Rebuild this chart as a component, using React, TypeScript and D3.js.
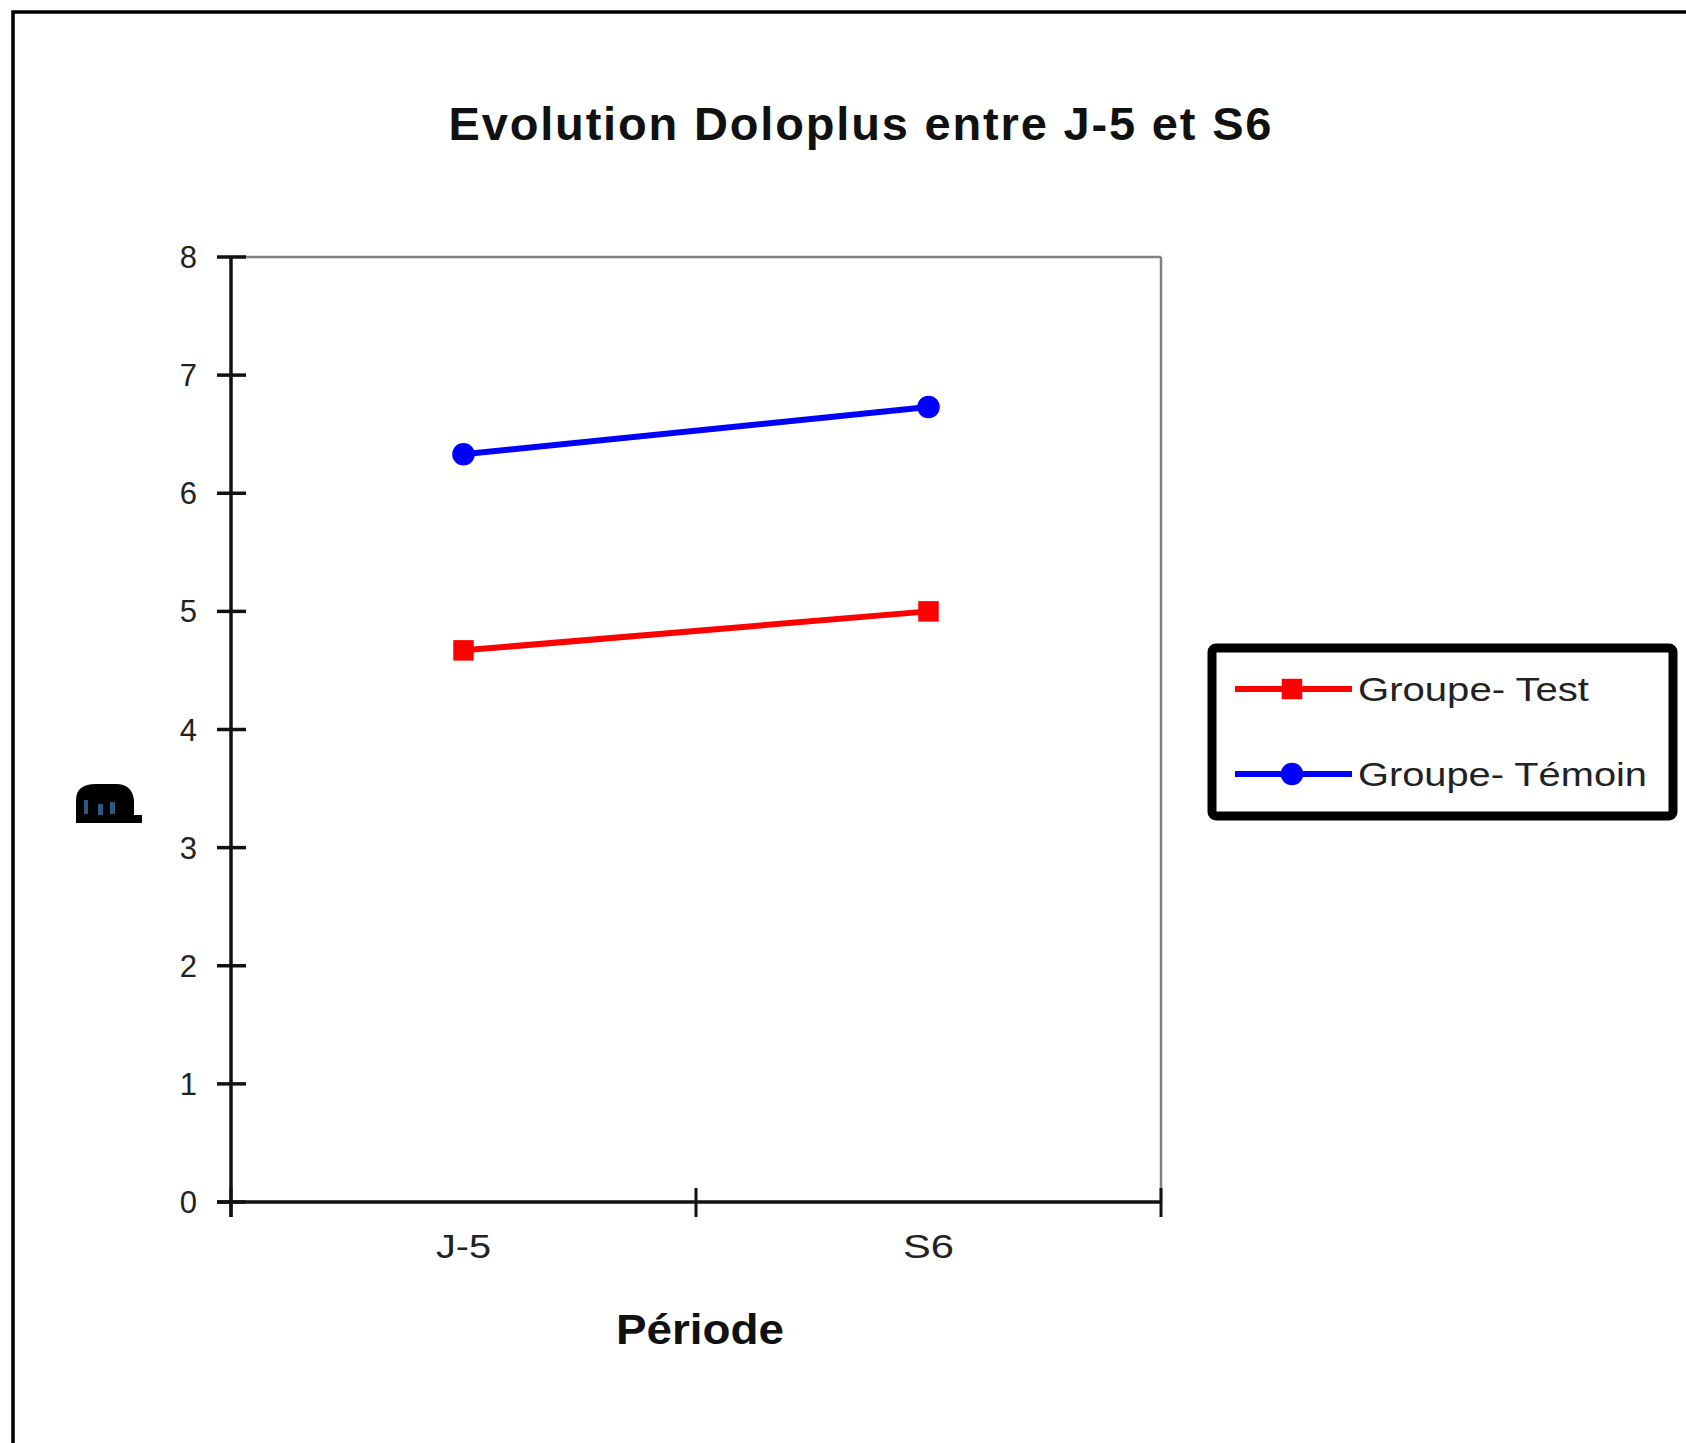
import React from "react";
import * as d3 from "d3";

const categories = ["J-5", "S6"];
const groupeTest = [4.67, 5.0];
const groupeTemoin = [6.33, 6.73];
const yTicks = [0, 1, 2, 3, 4, 5, 6, 7, 8];
const seriesNames = ["Groupe- Test", "Groupe- Témoin"];
const seriesColors = ["#FF0000", "#0000FF"];
const titleText = "Evolution Doloplus entre J-5 et S6";
const xTitle = "Période";

const FONT = "'Liberation Sans', Arial, sans-serif";

export default function App() {
  const W = 1686;
  const H = 1443;
  const left = 231;
  const right = 1161;
  const top = 257;
  const bottom = 1202;

  const x = d3.scaleBand<string>().domain(categories).range([left, right]).padding(0);
  const y = d3.scaleLinear().domain([0, 8]).range([bottom, top]);
  const cx = (c: string) => (x(c) as number) + x.bandwidth() / 2;

  const series = [groupeTest, groupeTemoin];
  const line = d3
    .line<number>()
    .x((_, i) => cx(categories[i]))
    .y((d) => y(d));

  const squareSym = d3.symbol().type(d3.symbolSquare).size(420)();
  const circleSym = d3.symbol().type(d3.symbolCircle).size(400)();
  const syms = [squareSym, circleSym];

  const xBoundaries = [left, ...categories.slice(1).map((c) => x(c) as number), right];
  const xLabelWidths = [55, 51];

  const legendY = [689, 774];

  return (
    <svg
      width={W}
      height={H}
      style={{ position: "absolute", left: 0, top: 0, background: "#fff" }}
      fontFamily={FONT}
    >
      <rect x={0} y={0} width={W} height={H} fill="#fff" />
      {/* outer chart frame */}
      <rect x={13} y={12} width={W + 20} height={H + 20} fill="none" stroke="#000" strokeWidth={3.5} />

      {/* title */}
      <text
        x={860}
        y={140}
        textAnchor="middle"
        fontSize={47}
        fontWeight="bold"
        fill="#111"
        textLength={823}
        lengthAdjust="spacing"
      >
        {titleText}
      </text>

      {/* plot frame top / right */}
      <line x1={left} x2={right} y1={top} y2={top} stroke="#808080" strokeWidth={2.5} />
      <line x1={right} x2={right} y1={top} y2={bottom} stroke="#808080" strokeWidth={2.5} />

      {/* y axis */}
      <line x1={left} x2={left} y1={top} y2={bottom + 15} stroke="#111" strokeWidth={3.5} />
      {yTicks.map((t) => (
        <g key={t}>
          <line x1={left - 14} x2={left + 15} y1={y(t)} y2={y(t)} stroke="#111" strokeWidth={3.5} />
          <text x={197} y={y(t) + 11} textAnchor="end" fontSize={31} fill="#222">
            {t}
          </text>
        </g>
      ))}

      {/* x axis */}
      <line x1={left - 14} x2={right} y1={bottom} y2={bottom} stroke="#111" strokeWidth={3.5} />
      {xBoundaries.map((b, i) => (
        <line key={i} x1={b} x2={b} y1={bottom - 14} y2={bottom + 15} stroke="#111" strokeWidth={3} />
      ))}
      {categories.map((c, i) => (
        <text
          key={c}
          x={cx(c)}
          y={1258}
          textAnchor="middle"
          fontSize={33}
          fill="#222"
          textLength={xLabelWidths[i]}
          lengthAdjust="spacingAndGlyphs"
        >
          {c}
        </text>
      ))}

      {/* x title */}
      <text
        x={700}
        y={1344}
        textAnchor="middle"
        fontSize={43}
        fontWeight="bold"
        fill="#111"
        textLength={168}
        lengthAdjust="spacingAndGlyphs"
      >
        {xTitle}
      </text>

      {/* garbled y-axis title glyph */}
      <g>
        <path d="M76,822 L76,800 Q76,784 96,784 L116,784 Q132,784 134,800 L134,815 L142,815 L142,823 L76,823 Z" fill="#000" />
        <rect x={84} y={800} width={4} height={14} fill="#3a6ea5" opacity={0.8} />
        <rect x={98} y={804} width={5} height={11} fill="#3a6ea5" opacity={0.8} />
        <rect x={110} y={802} width={5} height={12} fill="#3a6ea5" opacity={0.8} />
      </g>

      {/* series */}
      {series.map((s, si) => (
        <g key={si}>
          <path d={line(s) || ""} fill="none" stroke={seriesColors[si]} strokeWidth={6} />
          {s.map((v, i) => (
            <path
              key={i}
              d={syms[si] || ""}
              transform={`translate(${cx(categories[i])},${y(v)})`}
              fill={seriesColors[si]}
            />
          ))}
        </g>
      ))}

      {/* legend */}
      <rect x={1212} y={648} width={461} height={168} rx={4} fill="#fff" stroke="#000" strokeWidth={9} />
      {seriesNames.map((n, i) => (
        <g key={n}>
          <line x1={1235} x2={1352} y1={legendY[i]} y2={legendY[i]} stroke={seriesColors[i]} strokeWidth={6} />
          <path d={syms[i] || ""} transform={`translate(1292,${legendY[i]})`} fill={seriesColors[i]} />
          <text
            x={1358}
            y={legendY[i] + 12}
            fontSize={34}
            fill="#222"
            textLength={i === 0 ? 231 : 289}
            lengthAdjust="spacingAndGlyphs"
          >
            {n}
          </text>
        </g>
      ))}
    </svg>
  );
}
